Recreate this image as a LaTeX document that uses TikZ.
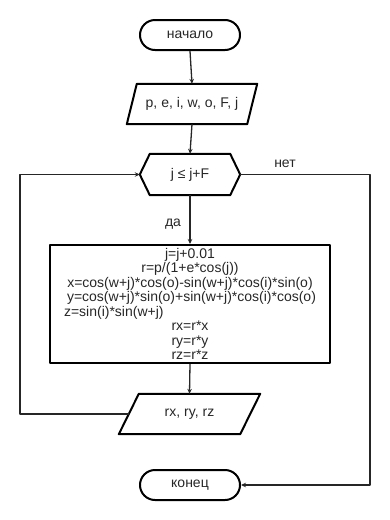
\documentclass[tikz,border=0pt]{standalone}
\usepackage{fontspec}
\setmainfont{Liberation Sans}
\usetikzlibrary{arrows.meta,calc}
\begin{document}
\begin{tikzpicture}[x=1pt,y=-1pt,line join=round,
  txt/.style={font=\fontsize{14}{14.4}\selectfont,text=black!85},
  shp/.style={draw=black,line width=2pt},
  term/.style={shp,txt,rounded corners=15pt,minimum width=100pt,minimum height=30pt,inner sep=0pt},
  ghost/.style={txt,inner sep=0pt},
  conn/.style={line width=1.3pt,draw=black!85,-{Stealth[length=5pt,width=4.5pt]}}]
\useasboundingbox (0,0) rectangle (390,520);
% start
\node[term] (start) at (190,35) {начало};
% input
\node[ghost,minimum width=120pt,minimum height=40pt] (in) at (192,104) {p, e, i, w, o, F, j};
\draw[shp] ($(in.south west)+(-5,0)$) -- ($(in.south east)+(-5,0)$) -- ($(in.north east)+(5,0)$) -- ($(in.north west)+(5,0)$) -- cycle;
% decision
\node[ghost,minimum width=100pt,minimum height=41pt] (dec) at (190,174.5) {j ≤ j+F};
\draw[shp] (dec.west) -- ($(dec.north west)+(10,0)$) -- ($(dec.north east)+(-10,0)$) -- (dec.east) -- ($(dec.south east)+(-10,0)$) -- ($(dec.south west)+(10,0)$) -- cycle;
% process
\node[shp,minimum width=280pt,minimum height=118pt,inner sep=0pt] (proc) at (190,304) {};
\node[ghost] (proctext) at (190,306)
 {\renewcommand{\arraystretch}{1}\begin{tabular}{@{}c@{}}
  j=j+0.01\\
  r=p/(1+e*cos(j))\\
  x=cos(w+j)*cos(o)-sin(w+j)*cos(i)*sin(o)\\
  \hspace*{3pt}y=cos(w+j)*sin(o)+sin(w+j)*cos(i)*cos(o)\\
  \multicolumn{1}{@{}l@{}}{z=sin(i)*sin(w+j)}\\
  rx=r*x\\
  ry=r*y\\
  rz=r*z
 \end{tabular}};
% output
\node[ghost,minimum width=121pt,minimum height=40pt] (out) at (189.5,414) {rx, ry, rz};
\draw[shp] ($(out.south west)+(-10,0)$) -- ($(out.south east)+(-10,0)$) -- ($(out.north east)+(10,0)$) -- ($(out.north west)+(10,0)$) -- cycle;
% end
\node[term] (end) at (190,485) {конец};
% connectors
\draw[conn] (start.south) -- (in.north);
\draw[conn] (in.south) -- (dec.north);
\draw[conn] (dec.south) -- (proc.north);
\draw[conn] (proc.south) -- (out.north);
\coordinate (lp1) at (20,414);
\coordinate (lp2) at (20,174.5);
\draw[conn] (out.west) -- (lp1) -- (lp2) -- (dec.west);
\coordinate (rp1) at (370,174.5);
\coordinate (rp2) at (370,485);
\draw[conn] (dec.east) -- (rp1) -- (rp2) -- (end.east);
% labels
\node[txt] (no) at (285,164) {нет};
\node[txt] (yes) at (173,224) {да};
\end{tikzpicture}
\end{document}
